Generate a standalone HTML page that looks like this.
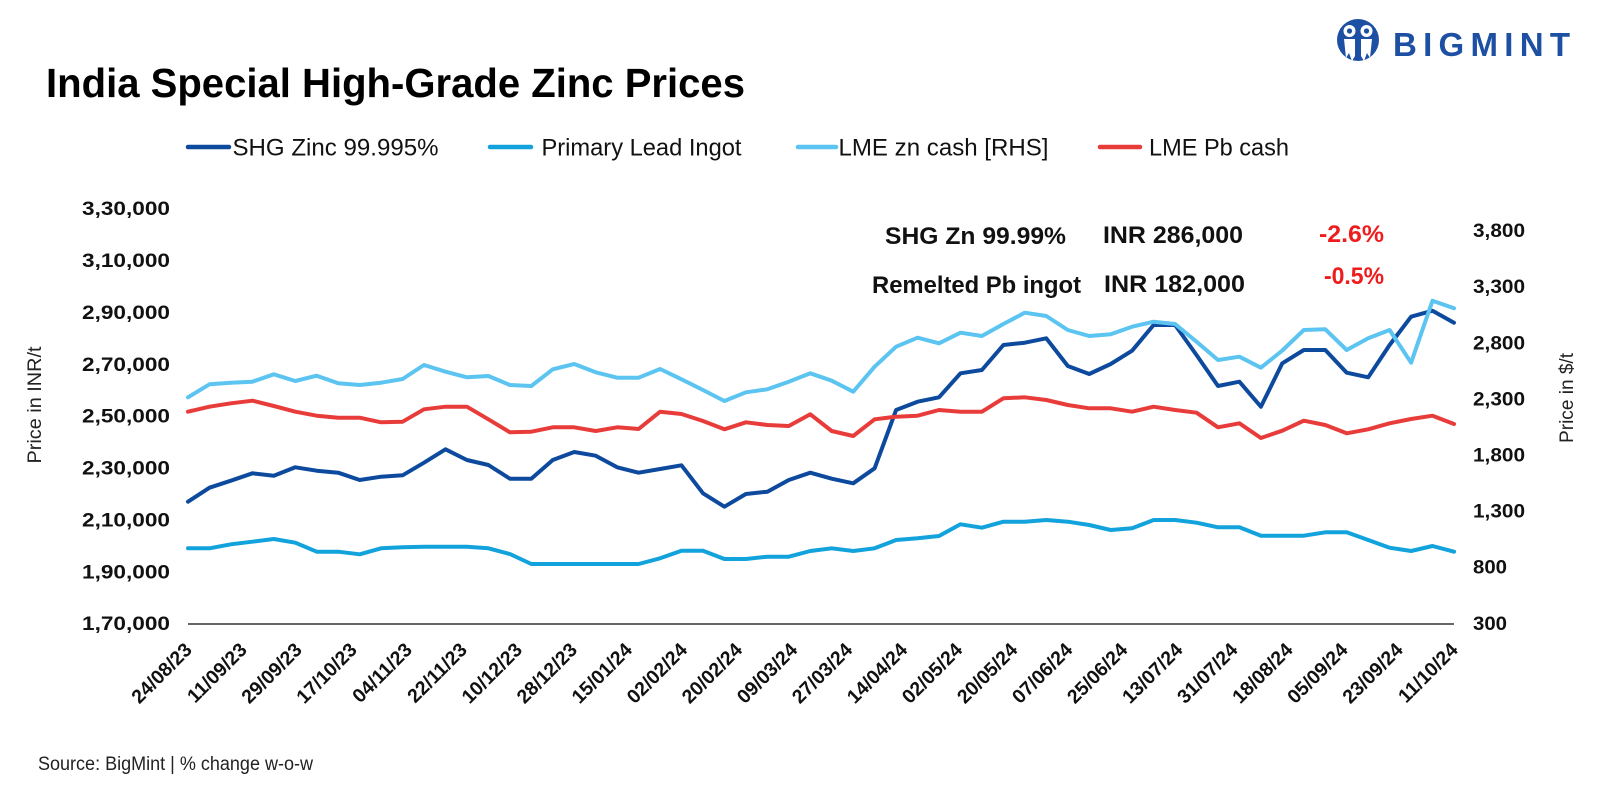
<!DOCTYPE html>
<html>
<head>
<meta charset="utf-8">
<style>
  html, body { margin: 0; padding: 0; background: #ffffff; }
  body { width: 1600px; height: 794px; overflow: hidden; }
  svg { display: block; }
  text { font-family: "Liberation Sans", Arial, sans-serif; }
</style>
</head>
<body>
<svg id="chart" width="1600" height="794" viewBox="0 0 1600 794" xmlns="http://www.w3.org/2000/svg">
  <rect x="0" y="0" width="1600" height="794" fill="#ffffff"/>

  <!-- Logo -->
  <g>
    <circle cx="1358" cy="40" r="21" fill="#1d4fa3"/>
    <circle cx="1349.5" cy="31" r="6" fill="#ffffff"/>
    <circle cx="1366.5" cy="31" r="6" fill="#ffffff"/>
    <circle cx="1349.5" cy="31" r="2.6" fill="#1d4fa3"/>
    <circle cx="1366.5" cy="31" r="2.6" fill="#1d4fa3"/>
    <path d="M1344 39 L1355 39 L1355 56 L1352 61 L1349 53 L1346 58 Z" fill="#ffffff"/>
    <path d="M1361 39 L1372 39 L1370 58 L1367 53 L1364 61 L1361 56 Z" fill="#ffffff"/>
    <text x="1393" y="56" font-size="33" font-weight="bold" fill="#1d4fa3" textLength="177" lengthAdjust="spacing">BIGMINT</text>
  </g>

  <!-- Title -->
  <text x="46" y="97" font-size="41" font-weight="bold" fill="#000000" textLength="699" lengthAdjust="spacingAndGlyphs">India Special High-Grade Zinc Prices</text>

  <!-- Legend -->
  <g stroke-width="4.5" stroke-linecap="round">
    <line x1="188" y1="147" x2="229" y2="147" stroke="#0d4a9e"/>
    <line x1="490" y1="147" x2="531" y2="147" stroke="#12a2dc"/>
    <line x1="798" y1="147" x2="836" y2="147" stroke="#5cc4f0"/>
    <line x1="1100" y1="147" x2="1140" y2="147" stroke="#e83c3a"/>
  </g>
  <g font-size="24" fill="#111111">
    <text x="232.5" y="155.5" textLength="206" lengthAdjust="spacingAndGlyphs">SHG Zinc 99.995%</text>
    <text x="541.5" y="155.5" textLength="200" lengthAdjust="spacingAndGlyphs">Primary Lead Ingot</text>
    <text x="838.5" y="155.5" textLength="210" lengthAdjust="spacingAndGlyphs">LME zn cash [RHS]</text>
    <text x="1149" y="155.5" textLength="140" lengthAdjust="spacingAndGlyphs">LME Pb cash</text>
  </g>

  <!-- Left axis tick labels -->
  <g font-size="19" font-weight="bold" fill="#111111" text-anchor="end">
    <text x="170" y="215" textLength="88" lengthAdjust="spacingAndGlyphs">3,30,000</text>
    <text x="170" y="267" textLength="88" lengthAdjust="spacingAndGlyphs">3,10,000</text>
    <text x="170" y="319" textLength="88" lengthAdjust="spacingAndGlyphs">2,90,000</text>
    <text x="170" y="371" textLength="88" lengthAdjust="spacingAndGlyphs">2,70,000</text>
    <text x="170" y="422.5" textLength="88" lengthAdjust="spacingAndGlyphs">2,50,000</text>
    <text x="170" y="474.5" textLength="88" lengthAdjust="spacingAndGlyphs">2,30,000</text>
    <text x="170" y="526.5" textLength="88" lengthAdjust="spacingAndGlyphs">2,10,000</text>
    <text x="170" y="578.5" textLength="88" lengthAdjust="spacingAndGlyphs">1,90,000</text>
    <text x="170" y="630" textLength="88" lengthAdjust="spacingAndGlyphs">1,70,000</text>
  </g>

  <!-- Right axis tick labels -->
  <g font-size="19" font-weight="bold" fill="#111111">
    <text x="1473" y="237" textLength="52" lengthAdjust="spacingAndGlyphs">3,800</text>
    <text x="1473" y="293" textLength="52" lengthAdjust="spacingAndGlyphs">3,300</text>
    <text x="1473" y="349.5" textLength="52" lengthAdjust="spacingAndGlyphs">2,800</text>
    <text x="1473" y="405.5" textLength="52" lengthAdjust="spacingAndGlyphs">2,300</text>
    <text x="1473" y="461.5" textLength="52" lengthAdjust="spacingAndGlyphs">1,800</text>
    <text x="1473" y="517.5" textLength="52" lengthAdjust="spacingAndGlyphs">1,300</text>
    <text x="1473" y="573.5" textLength="34" lengthAdjust="spacingAndGlyphs">800</text>
    <text x="1473" y="630" textLength="34" lengthAdjust="spacingAndGlyphs">300</text>
  </g>

  <!-- Axis titles -->
  <text transform="translate(41,405) rotate(-90)" font-size="19" fill="#222222" text-anchor="middle" textLength="117" lengthAdjust="spacingAndGlyphs">Price in INR/t</text>
  <text transform="translate(1573,398) rotate(-90)" font-size="19" fill="#222222" text-anchor="middle" textLength="90" lengthAdjust="spacingAndGlyphs">Price in $/t</text>

  <!-- X axis line -->
  <line x1="188" y1="624" x2="1454" y2="624" stroke="#333333" stroke-width="1.6"/>

  <!-- Series -->
  <g id="series" fill="none" stroke-width="4" stroke-linejoin="round" stroke-linecap="round"></g>

  <!-- X tick labels -->
  <g id="xlabels" font-size="19.5" font-weight="bold" fill="#111111" text-anchor="end"></g>

  <!-- Annotations -->
  <g font-size="24" font-weight="bold" fill="#111111">
    <text x="885" y="244" textLength="181" lengthAdjust="spacingAndGlyphs">SHG Zn 99.99%</text>
    <text x="1103" y="243" textLength="140" lengthAdjust="spacingAndGlyphs">INR 286,000</text>
    <text x="872" y="293" textLength="209" lengthAdjust="spacingAndGlyphs">Remelted Pb ingot</text>
    <text x="1104" y="292" textLength="141" lengthAdjust="spacingAndGlyphs">INR 182,000</text>
  </g>
  <g font-size="24" font-weight="bold" fill="#ee1c1c">
    <text x="1319" y="242" textLength="65" lengthAdjust="spacingAndGlyphs">-2.6%</text>
    <text x="1324" y="284" textLength="60" lengthAdjust="spacingAndGlyphs">-0.5%</text>
  </g>

  <!-- Source -->
  <text x="38" y="770" font-size="19" fill="#222222" textLength="275" lengthAdjust="spacingAndGlyphs">Source: BigMint | % change w-o-w</text>
</svg>

<script>
(function(){
  var NS = "http://www.w3.org/2000/svg";
  var x0 = 188, step = 1266/59;
  var shg = [501.7,487.7,480.7,473.3,475.7,467.3,470.7,472.7,480,476.7,
             475.3,462.7,449.3,460,465,478.7,478.7,460,452,455.7,
             467.3,472.7,469,465.3,493.3,506.7,494,491.7,480,472.7,
             478.7,483.3,468.3,410,401.7,397.3,373.3,370,345,342.7,
             338.3,366,374,364,350.7,325,325,355,386,381.7,
             406.7,363.3,350,350,372.7,377.3,345,316.7,310.7,322.7];
  var lead = [548.3,548.3,544.3,541.7,539,542.7,551.7,551.7,554.3,548.3,
              547.3,546.7,546.7,546.7,548.3,554,564,564,564,564,
              564,564,558.3,550.7,550.7,559,559,556.7,556.7,551,
              548.3,551,548.3,540,538.3,536,524.3,527.7,521.7,521.7,
              520,521.7,525,530,528.3,520,520,522.7,527.3,527.3,
              535.7,535.7,535.7,532.3,532.3,540,547.7,551,546,551.7];
  var zn = [397.3,384.3,382.7,381.7,374.3,381,375.7,383.3,385,382.7,
            379,365,371.7,377.3,376,385,386,369.3,364,372.3,
            377.7,377.7,369,379.3,390,401,392.3,389.3,381.7,373.3,
            380.7,391.7,366.7,346.7,337.7,343.3,332.7,336,324,312.7,
            316,330,336,334.3,326.7,321.7,324,341.7,360,356.7,
            367.7,350.5,330,329.3,350,338.3,330,362.7,300.7,308.3];
  var pb = [411.7,406.7,403.3,400.7,406,411.7,415.7,417.7,417.7,422.3,
            421.7,409.3,406.7,406.7,419.3,432.3,431.7,427.3,427.3,431,
            427.3,429,411.7,414,421,429.3,422.3,425,426,414.3,
            431,436,419.3,416.7,415.7,410,411.7,411.7,398.3,397.3,
            400,405,408.3,408.3,411.7,406.7,410,412.7,427.3,423.3,
            438,430.7,420.7,425,433.3,429.3,423.3,419,415.7,424];
  var g = document.getElementById("series");
  function addLine(arr, color){
    var pts = arr.map(function(y,i){ return (x0 + i*step).toFixed(1) + "," + y; }).join(" ");
    var pl = document.createElementNS(NS, "polyline");
    pl.setAttribute("points", pts);
    pl.setAttribute("stroke", color);
    g.appendChild(pl);
  }
  addLine(shg, "#0d4a9e");
  addLine(lead, "#12a2dc");
  addLine(zn, "#5cc4f0");
  addLine(pb, "#e83c3a");

  var labels = ["24/08/23","11/09/23","29/09/23","17/10/23","04/11/23","22/11/23","10/12/23","28/12/23",
                "15/01/24","02/02/24","20/02/24","09/03/24","27/03/24","14/04/24","02/05/24","20/05/24",
                "07/06/24","25/06/24","13/07/24","31/07/24","18/08/24","05/09/24","23/09/24","11/10/24"];
  var xl = document.getElementById("xlabels");
  var dstep = 1266/23;
  labels.forEach(function(t,k){
    var x = x0 + k*dstep + 5;
    var el = document.createElementNS(NS, "text");
    el.setAttribute("transform", "translate(" + x.toFixed(1) + ",651) rotate(-45)");
    el.textContent = t;
    xl.appendChild(el);
  });
})();
</script>
</body>
</html>
